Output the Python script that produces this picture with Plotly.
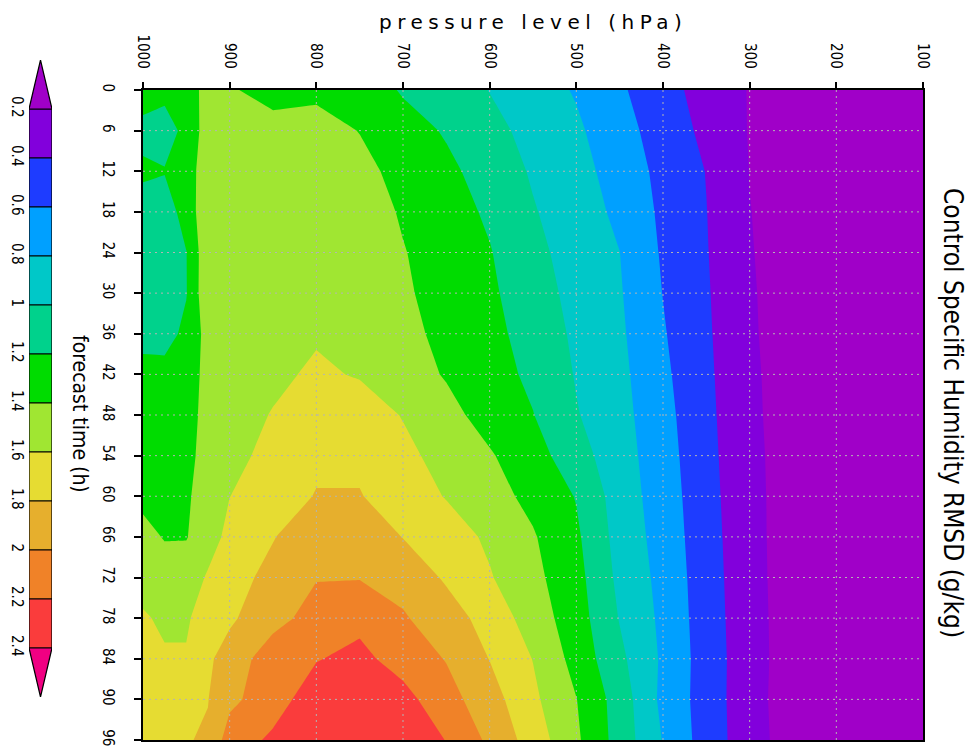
import plotly.graph_objects as go

# ---------------- data ----------------
pressure_levels = [1000, 975, 950, 925, 900, 850, 800, 750, 700, 650, 600,
                   550, 500, 450, 400, 350, 300, 250, 200, 150, 100]
forecast_hours = [0, 6, 12, 18, 24, 30, 36, 42, 48, 54, 60, 66, 72, 78, 84, 90, 96]

rmsd_t00 = [1.28, 1.25, 1.33, 1.45, 1.42, 1.33, 1.36, 1.33, 1.178, 1.09, 0.995, 0.895, 0.782, 0.629, 0.473, 0.323, 0.19, 0.14, 0.11, 0.09, 0.07]
rmsd_t06 = [1.15, 1.12, 1.25, 1.50, 1.50, 1.47, 1.47, 1.395, 1.29, 1.18, 1.056, 0.943, 0.833, 0.675, 0.512, 0.354, 0.19, 0.14, 0.11, 0.09, 0.07]
rmsd_t12 = [1.23, 1.21, 1.30, 1.52, 1.55, 1.53, 1.52, 1.45, 1.346, 1.245, 1.117, 0.979, 0.867, 0.721, 0.543, 0.395, 0.197, 0.13, 0.11, 0.09, 0.07]
rmsd_t18 = [1.12, 1.10, 1.28, 1.55, 1.54, 1.54, 1.53, 1.50, 1.38, 1.283, 1.171, 1.015, 0.893, 0.76, 0.561, 0.404, 0.204, 0.12, 0.11, 0.09, 0.07]
rmsd_t24 = [1.08, 1.10, 1.195, 1.55, 1.55, 1.56, 1.56, 1.52, 1.41, 1.31, 1.211, 1.054, 0.918, 0.802, 0.577, 0.411, 0.21, 0.12, 0.10, 0.09, 0.07]
rmsd_t30 = [1.06, 1.08, 1.19, 1.56, 1.57, 1.57, 1.58, 1.55, 1.43, 1.32, 1.233, 1.09, 0.94, 0.817, 0.596, 0.42, 0.219, 0.11, 0.10, 0.08, 0.07]
rmsd_t36 = [1.15, 1.12, 1.25, 1.47, 1.56, 1.57, 1.58, 1.55, 1.46, 1.345, 1.253, 1.128, 0.964, 0.833, 0.617, 0.429, 0.224, 0.11, 0.10, 0.08, 0.07]
rmsd_t42 = [1.25, 1.27, 1.32, 1.45, 1.53, 1.56, 1.63, 1.585, 1.48, 1.386, 1.28, 1.16, 0.987, 0.851, 0.641, 0.439, 0.234, 0.11, 0.10, 0.08, 0.07]
rmsd_t48 = [1.30, 1.30, 1.33, 1.46, 1.52, 1.61, 1.72, 1.70, 1.59, 1.457, 1.329, 1.206, 1.013, 0.867, 0.665, 0.45, 0.24, 0.11, 0.10, 0.08, 0.07]
rmsd_t54 = [1.33, 1.32, 1.34, 1.48, 1.55, 1.65, 1.76, 1.76, 1.65, 1.53, 1.418, 1.286, 1.079, 0.886, 0.685, 0.46, 0.25, 0.11, 0.10, 0.08, 0.07]
rmsd_t60 = [1.36, 1.35, 1.37, 1.50, 1.598, 1.70, 1.81, 1.81, 1.70, 1.59, 1.474, 1.348, 1.19, 0.904, 0.703, 0.471, 0.256, 0.11, 0.10, 0.08, 0.07]
rmsd_t66 = [1.45, 1.39, 1.39, 1.52, 1.65, 1.79, 1.93, 1.93, 1.795, 1.69, 1.568, 1.418, 1.234, 0.925, 0.721, 0.48, 0.265, 0.10, 0.09, 0.08, 0.07]
rmsd_t72 = [1.53, 1.48, 1.50, 1.62, 1.72, 1.86, 1.99, 1.99, 1.93, 1.775, 1.615, 1.453, 1.267, 0.953, 0.74, 0.49, 0.27, 0.10, 0.09, 0.08, 0.07]
rmsd_t78 = [1.62, 1.57, 1.57, 1.72, 1.77, 1.93, 2.08, 2.15, 2.02, 1.889, 1.725, 1.505, 1.293, 0.99, 0.756, 0.497, 0.278, 0.10, 0.09, 0.08, 0.07]
rmsd_t84 = [1.68, 1.62, 1.62, 1.77, 1.88, 2.115, 2.19, 2.25, 2.12, 1.99, 1.795, 1.595, 1.33, 1.045, 0.77, 0.506, 0.283, 0.10, 0.09, 0.08, 0.07]
rmsd_t90 = [1.73, 1.70, 1.72, 1.795, 1.95, 2.12, 2.30, 2.38, 2.267, 2.074, 1.886, 1.64, 1.405, 1.111, 0.75, 0.51, 0.274, 0.10, 0.09, 0.08, 0.07]
rmsd_t96 = [1.75, 1.77, 1.79, 1.82, 2.103, 2.233, 2.33, 2.35, 2.32, 2.195, 1.96, 1.71, 1.433, 1.12, 0.79, 0.508, 0.287, 0.10, 0.09, 0.08, 0.07]

contour_levels = [0.2, 0.4, 0.6, 0.8, 1.0, 1.2, 1.4, 1.6, 1.8, 2.0, 2.2, 2.4]
level_labels = ["0.2", "0.4", "0.6", "0.8", "1", "1.2", "1.4", "1.6", "1.8", "2", "2.2", "2.4"]
shade_colors = ["#a000c8", "#8200dc", "#1e3cff", "#00a0ff", "#00c8c8", "#00d28c",
                "#00dc00", "#a0e632", "#e6dc32", "#e6af2d", "#f08228", "#fa3c3c", "#f00082"]

pressure_ticks = [1000, 900, 800, 700, 600, 500, 400, 300, 200, 100]
hour_ticks = [0, 6, 12, 18, 24, 30, 36, 42, 48, 54, 60, 66, 72, 78, 84, 90, 96]

title_text = "Control Specific Humidity RMSD (g/kg)"
x_title = "pressure level (hPa)"
y_title = "forecast time (h)"

# ---------------- build ----------------
rmsd = [rmsd_t00, rmsd_t06, rmsd_t12, rmsd_t18, rmsd_t24, rmsd_t30, rmsd_t36, rmsd_t42,
        rmsd_t48, rmsd_t54, rmsd_t60, rmsd_t66, rmsd_t72, rmsd_t78, rmsd_t84, rmsd_t90, rmsd_t96]

# the page body has an 8px margin, so the figure starts at (8, 8) in the window
OFF = 8
W, H = 973 - OFF, 750 - OFF


def fx(px):  # window pixel -> paper x
    return (px - OFF) / W


def fy(py):  # window pixel -> paper y
    return 1 - (py - OFF) / H


NARROW = "Liberation Sans Narrow, DejaVu Sans Condensed, Arial Narrow, sans-serif"

n = len(contour_levels)
step = contour_levels[1] - contour_levels[0]
colorscale = []
for k in range(n + 1):
    lo = max(0.0, (k - 0.5) / n)
    hi = min(1.0, (k + 0.5) / n)
    colorscale += [[lo, shade_colors[k]], [hi, shade_colors[k]]]

fig = go.Figure()
fig.add_trace(go.Contour(
    x=pressure_levels, y=forecast_hours, z=rmsd,
    autocontour=False,
    contours=dict(start=contour_levels[0], end=contour_levels[-1], size=step,
                  coloring="fill", showlines=False),
    colorscale=colorscale, showscale=False, line=dict(width=0, smoothing=0),
    hoverinfo="skip",
))

# colour key (stacked boxes + end triangles)
fig.add_trace(go.Bar(
    x=[0.5] * (n - 1),
    y=[b - a for a, b in zip(contour_levels[:-1], contour_levels[1:])],
    base=contour_levels[:-1], width=1,
    marker=dict(color=shade_colors[1:n], line=dict(color="black", width=1.2)),
    xaxis="x2", yaxis="y2", cliponaxis=False, hoverinfo="skip",
))
fig.add_trace(go.Scatter(
    x=[0, 1, 0.5, 0],
    y=[contour_levels[0], contour_levels[0], contour_levels[0] - step, contour_levels[0]],
    fill="toself", fillcolor=shade_colors[0], mode="lines",
    line=dict(color="black", width=1.2), xaxis="x2", yaxis="y2",
    cliponaxis=False, hoverinfo="skip",
))
fig.add_trace(go.Scatter(
    x=[0, 1, 0.5, 0],
    y=[contour_levels[-1], contour_levels[-1], contour_levels[-1] + step, contour_levels[-1]],
    fill="toself", fillcolor=shade_colors[-1], mode="lines",
    line=dict(color="black", width=1.2), xaxis="x2", yaxis="y2",
    cliponaxis=False, hoverinfo="skip",
))

# dotted grid drawn above the shading
shapes = []
for p in pressure_ticks[1:-1]:
    shapes.append(dict(type="line", xref="x", yref="y", x0=p, x1=p,
                       y0=forecast_hours[0], y1=forecast_hours[-1], layer="above",
                       line=dict(color="#b4b4b4", width=1, dash="2px,4px")))
for h in hour_ticks[1:-1]:
    shapes.append(dict(type="line", xref="x", yref="y", y0=h, y1=h,
                       x0=pressure_levels[0], x1=pressure_levels[-1], layer="above",
                       line=dict(color="#b4b4b4", width=1, dash="2px,4px")))

tickfont = dict(family=NARROW, size=15, color="black")

fig.update_layout(
    width=W, height=H,
    margin=dict(l=0, r=0, t=0, b=0, pad=0),
    paper_bgcolor="white", plot_bgcolor="white",
    showlegend=False, barmode="overlay",
    xaxis=dict(domain=[fx(143), fx(923)], range=[pressure_levels[0], pressure_levels[-1]],
               side="top", tickmode="array", tickvals=pressure_ticks,
               ticktext=[str(p) for p in pressure_ticks], tickangle=90,
               ticks="outside", ticklen=6, tickwidth=2, tickcolor="black",
               showline=True, linewidth=2, linecolor="black", mirror=True,
               showgrid=False, zeroline=False, tickfont=tickfont, automargin=False,
               ticklabelstandoff=8, anchor="y"),
    yaxis=dict(domain=[fy(740), fy(90)], range=[forecast_hours[-1], forecast_hours[0]],
               tickmode="array", tickvals=hour_ticks, ticktext=[str(h) for h in hour_ticks],
               tickangle=90, ticks="outside", ticklen=7, tickwidth=2, tickcolor="black",
               showline=True, linewidth=2, linecolor="black", mirror=True,
               showgrid=False, zeroline=False, tickfont=tickfont, automargin=False,
               ticklabelstandoff=13, anchor="x"),
    xaxis2=dict(domain=[fx(29), fx(52)], range=[0, 1], visible=False, anchor="y2",
                automargin=False, fixedrange=True),
    yaxis2=dict(domain=[fy(697), fy(60)],
                range=[contour_levels[-1] + step, contour_levels[0] - step],
                tickmode="array", tickvals=contour_levels, ticktext=level_labels,
                tickangle=90, ticks="", showline=False, showgrid=False, zeroline=False,
                side="left", tickfont=dict(family=NARROW, size=15, color="black"),
                ticklabelstandoff=1, anchor="x2", automargin=False),
    shapes=shapes,
    annotations=[
        dict(text='<span style="letter-spacing:5.5px">' + x_title + '</span>',
             x=fx(533), y=fy(22), xref="paper", yref="paper",
             xanchor="center", yanchor="middle", showarrow=False,
             font=dict(family="DejaVu Sans", size=20, color="black")),
        dict(text=y_title, textangle=90, x=fx(80), y=fy(414),
             xref="paper", yref="paper", xanchor="center", yanchor="middle",
             showarrow=False, font=dict(family=NARROW, size=21, color="black")),
        dict(text=title_text, textangle=90, x=fx(953), y=fy(413),
             xref="paper", yref="paper", xanchor="center", yanchor="middle",
             showarrow=False, font=dict(family=NARROW, size=26, color="black")),
    ],
)

fig.write_html("out.html")
